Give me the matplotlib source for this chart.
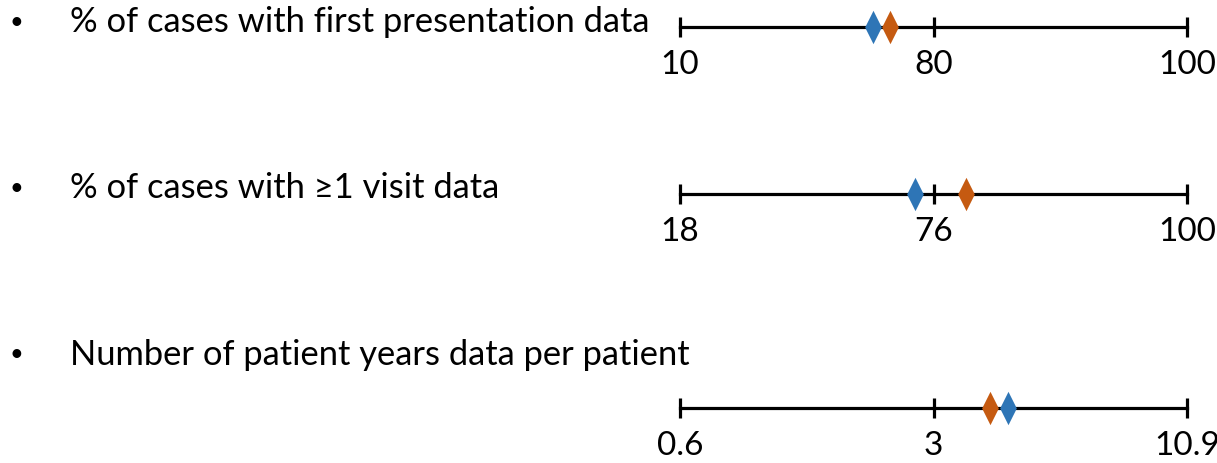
import matplotlib.pyplot as plt
import numpy as np


# =====================================================
# DATA
# =====================================================

row_labels = [
    "% of cases with first presentation data",
    "% of cases with \u22651 visit data",
    "Number of patient years data per patient"
]

scale_min = [10, 18, 0.6]
scale_mid = [80, 76, 3]
scale_max = [100, 100, 10.9]
tick_text = [
    ["10", "80", "100"],
    ["18", "76", "100"],
    ["0.6", "3", "10.9"]
]

blue_vals = [63.2, 71.8, 5.33]
orange_vals = [67.9, 79.1, 4.76]


# =====================================================
# LAYOUT (pixels from top)
# =====================================================

W, H = 1217, 463
line_y = [27, 194, 408]
text_y = [22, 188, 355]

BLUE = "#2E75B6"
ORANGE = "#C55A11"

# narrow diamond, twice as tall as wide
DIAMOND = [(0, 1), (0.5, 0), (0, -1), (-0.5, 0), (0, 1)]

plt.rcParams["font.family"] = ["Lato", "DejaVu Sans"]

fig = plt.figure(figsize=(W / 100, H / 100), dpi=100)
fig.patch.set_facecolor("white")


def make_scale(lo, mid, hi):
    pts = [lo, mid, hi]
    pos = [0.0, 0.5, 1.0]

    def fwd(x):
        return np.interp(x, pts, pos)

    def inv(x):
        return np.interp(x, pos, pts)

    return fwd, inv


for i in range(3):

    # bullet + text
    fig.text(10 / W, 1 - text_y[i] / H, "\u2022",
             fontsize=17, va="center", ha="left")
    fig.text(70 / W, 1 - text_y[i] / H, row_labels[i],
             fontsize=24.8, va="center", ha="left")

    ah = 40
    ax = fig.add_axes([680 / W, (H - line_y[i] - ah / 2) / H,
                       507 / W, ah / H])

    fwd, inv = make_scale(scale_min[i], scale_mid[i], scale_max[i])
    ax.set_xscale("function", functions=(fwd, inv))
    ax.set_xlim(scale_min[i], scale_max[i])
    ax.set_ylim(-1, 1)

    ticks = [scale_min[i], scale_mid[i], scale_max[i]]

    ax.plot([scale_min[i], scale_max[i]], [0, 0],
            color="black", lw=2.3, clip_on=False, zorder=2)
    ax.plot(ticks, [0, 0, 0], ls="none", marker="|",
            ms=15, mew=2.3, color="black", clip_on=False, zorder=2)

    ax.plot([blue_vals[i]], [0], ls="none", marker=DIAMOND,
            ms=24, mew=0, color=BLUE, clip_on=False, zorder=3)
    ax.plot([orange_vals[i]], [0], ls="none", marker=DIAMOND,
            ms=24, mew=0, color=ORANGE, clip_on=False, zorder=3)

    ax.set_xticks(ticks)
    ax.set_xticklabels(tick_text[i])
    ax.tick_params(axis="x", length=0, pad=2, labelsize=24)
    ax.minorticks_off()
    ax.set_yticks([])
    for s in ax.spines.values():
        s.set_visible(False)
    ax.patch.set_alpha(0)


plt.savefig("out.png", dpi=100)
plt.close()
